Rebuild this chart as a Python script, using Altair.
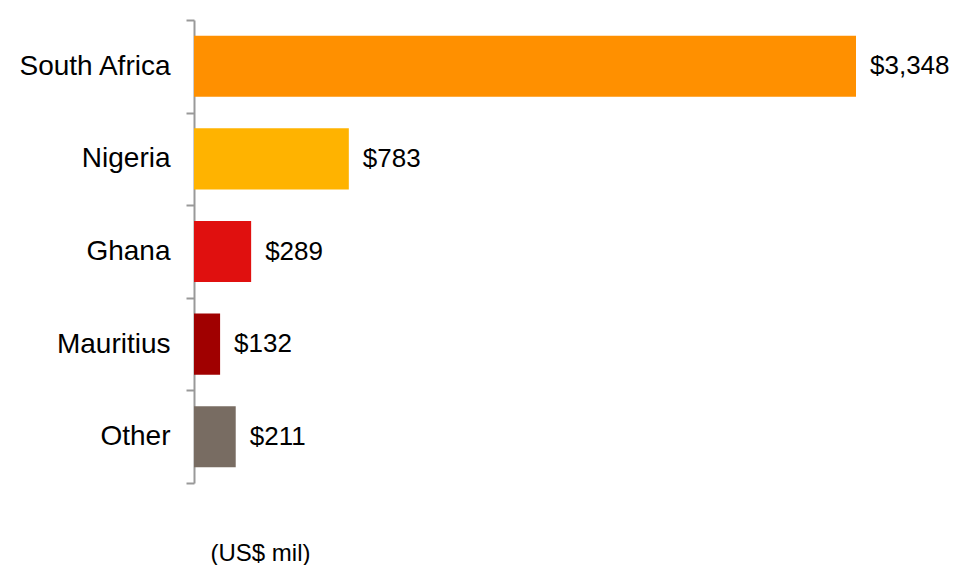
import altair as alt
import pandas as pd

countries = ["South Africa", "Nigeria", "Ghana", "Mauritius", "Other"]
values = [3348, 783, 289, 132, 211]
labels = ["$3,348", "$783", "$289", "$132", "$211"]
colors = ["#FF9000", "#FFB300", "#E0100F", "#A00000", "#786C62"]

df = pd.DataFrame({"country": countries, "value": values, "label": labels})

FONT = "Liberation Sans"

yscale = alt.Scale(domain=countries, paddingInner=0, paddingOuter=0)
y = alt.Y("country:N", sort=countries, title=None, scale=yscale,
          axis=alt.Axis(tickBand="extent", domainColor="#999999", domainWidth=2,
                        tickColor="#999999", tickWidth=2, tickSize=8, grid=False,
                        labelFont=FONT, labelFontSize=28, labelColor="#000000",
                        labelPadding=16))
xscale = alt.Scale(domain=[0, 3348], nice=False, zero=True)
x = alt.X("value:Q", scale=xscale,
          axis=alt.Axis(labels=False, ticks=False, domain=False, grid=False,
                        title="(US$ mil)", titleFont=FONT, titleFontSize=24,
                        titleFontWeight="normal", titleColor="#000000",
                        titleAnchor="start", titleAlign="left",
                        titleX=16, titleY=77, titleBaseline="alphabetic"))

bars = alt.Chart(df).mark_bar(height=alt.RelativeBandSize(0.66)).encode(
    x=x, y=y,
    color=alt.Color("country:N", scale=alt.Scale(domain=countries, range=colors), legend=None),
)
text = alt.Chart(df).mark_text(align="left", baseline="middle", dx=14, font=FONT,
                               fontSize=26, color="#000000").encode(
    x=alt.X("value:Q"),
    y=alt.Y("country:N", sort=countries),
    text="label:N")

chart = alt.layer(bars, text).properties(
    width=662, height=463,
    background="#ffffff",
    autosize=alt.AutoSizeParams(type="none"),
    padding={"left": 186, "top": 12, "right": 95, "bottom": 82},
).configure_view(stroke=None).configure_axis(grid=False)

chart.save("out.html", embed_options={"renderer": "svg", "actions": False})
